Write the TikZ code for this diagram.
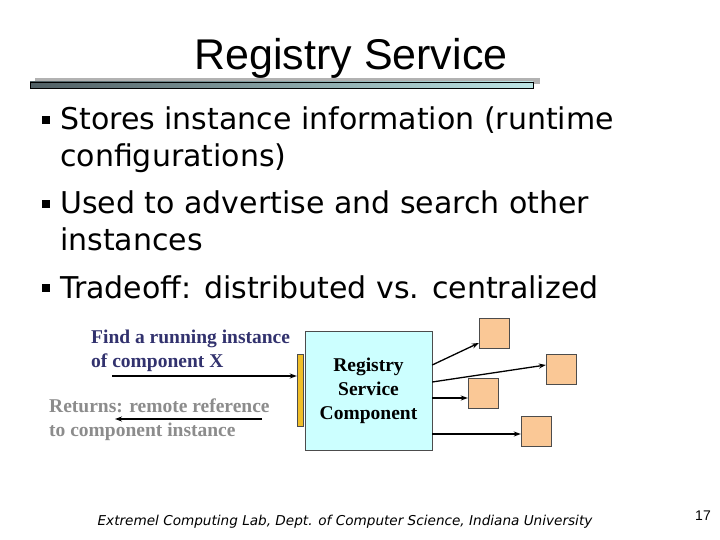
\documentclass[tikz,border=0pt]{standalone}
\usepackage{fontspec}
\setmainfont{Liberation Serif}
\newfontfamily\titlefont{Liberation Sans}
\newfontfamily\bodyfont{DejaVu Sans}
\usetikzlibrary{arrows.meta}
\definecolor{navy}{RGB}{50,50,110}
\definecolor{grtxt}{RGB}{140,140,140}
\definecolor{cyanbox}{RGB}{204,255,255}
\definecolor{orbox}{RGB}{250,200,150}
\definecolor{gold}{RGB}{240,190,40}
\definecolor{barL}{RGB}{80,95,100}
\definecolor{barR}{RGB}{190,230,230}
\begin{document}
\begin{tikzpicture}[x=1pt,y=-1pt,
  bullet/.style={anchor=base west,font=\bodyfont\fontsize{30}{34}\selectfont,inner sep=0},
  lbl/.style={font=\bfseries\fontsize{19.5}{24}\selectfont,align=left,inner sep=0},
  sq/.style={draw=black!70,fill=orbox,minimum size=30pt,inner sep=0},
  arr/.style={-{Stealth[length=7pt,width=5pt]},line width=1.3pt}]
\useasboundingbox (0,0) rectangle (720,540);
\fill[white] (0,0) rectangle (720,540);
\node[font=\titlefont\fontsize{43}{48}\selectfont,anchor=base] (title) at (351,70) {Registry Service};
\fill[black!30] (35,78) rectangle (540,84);
\shade[left color=barL,right color=barR,draw=black] (30,82) rectangle (533,88);
\foreach \y in {130,214,298} \fill[black] (42,\y-14) rectangle (50,\y-6);
\node[bullet] (b1) at (60,130) {Stores instance information (runtime};
\node[bullet] (b1b) at (60,167) {configurations)};
\node[bullet] (b2) at (60,214) {Used to advertise and search other};
\node[bullet] (b2b) at (60,251) {instances};
\node[bullet] (b3) at (60,298) {Tradeoff: distributed vs. centralized};
\node[lbl,text=navy,anchor=north west] (find) at (91,330) {Find a running instance\\of component X};
\node[lbl,text=grtxt,anchor=north west] (ret) at (49,399) {Returns: remote reference\\to component instance};
\node[draw=black!70,fill=gold,minimum width=6pt,minimum height=72pt,inner sep=0] (bar) at (300,390) {};
\node[draw=black!70,fill=cyanbox,minimum width=127pt,minimum height=119pt,align=center,font=\bfseries\fontsize{19.5}{24}\selectfont] (reg) at (368.5,390.5) {Registry\\Service\\Component};
\node[sq] (A) at (494,333) {};
\node[sq] (B) at (561,369) {};
\node[sq] (C) at (483,393) {};
\node[sq] (D) at (536,431) {};
\coordinate (f1) at (112,376);
\coordinate (r1) at (262,419);
\coordinate (r2) at (115,419);
\draw[arr] (f1) -- (bar.west |- f1);
\draw[arr] (r1) -- (r2);
\draw[arr] (reg.east |- 0,365) -- (A.west |- 0,343);
\draw[arr] (reg.east |- 0,382) -- (B.west |- 0,365);
\draw[arr] (reg.east |- 0,398) -- (C.west |- 0,398);
\draw[arr] (reg.east |- 0,434) -- (D.west |- 0,434);
\node[font=\bodyfont\itshape\fontsize{13.6}{16}\selectfont] (foot) at (345,522) {Extremel Computing Lab, Dept. of Computer Science, Indiana University};
\node[font=\titlefont\fontsize{14}{16}\selectfont] (pg) at (703,516) {17};
\end{tikzpicture}
\end{document}
